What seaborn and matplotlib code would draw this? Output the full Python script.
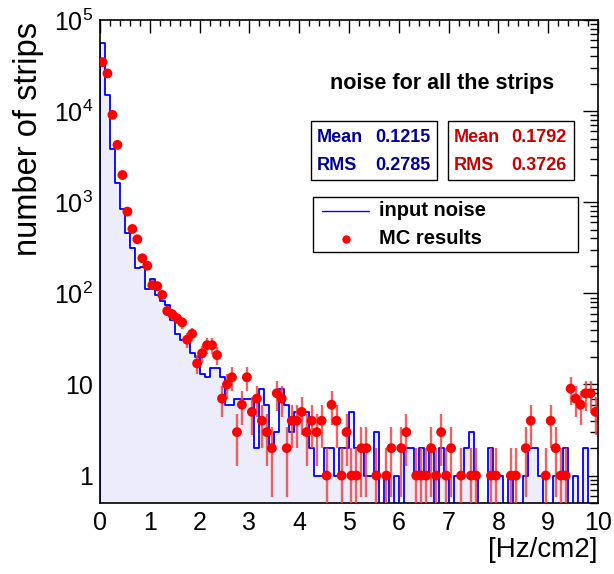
import numpy as np
import pandas as pd
import matplotlib
matplotlib.use("Agg")
import matplotlib.pyplot as plt
import seaborn as sns
from matplotlib.ticker import MultipleLocator, LogLocator, FuncFormatter, NullFormatter
from matplotlib.patches import Rectangle
from matplotlib.lines import Line2D

# ---------------- data (100 bins of 0.1 Hz/cm2 from 0 to 10) ----------------
x_range = (0.0, 10.0)
bin_width = 0.1

input_noise = [
    56000, 15000, 3850, 1620, 844, 457, 312, 188, 197, 113,
    144, 97, 82, 74, 51, 36, 31, 31, 22, 20,
    13, 12, 15, 15, 12, 6, 6, 7, 7, 7,
    7, 2, 9, 6, 2, 3, 9, 6, 3, 5,
    5, 5, 2, 1, 1, 2, 2, 1, 2, 2,
    5, 2, 2, 1, 1, 3, 0, 1, 0, 1,
    0, 2, 2, 1, 2, 1, 2, 0, 2, 1,
    0, 1, 1, 2, 3, 1, 0, 0, 2, 1,
    1, 0, 1, 0, 0, 1, 2, 2, 1, 0,
    0, 1, 1, 2, 0, 1, 0, 2, 0, 0,
]

mc_results = [
    34500, 25900, 9100, 4260, 1990, 790, 509, 392, 243, 201,
    123, 120, 96, 64, 59, 53, 48, 31, 36, 17,
    22, 27, 27, 21, 7, 10, 12, 3, 6, 12,
    5, 7, 4, 3, 2, 8, 7, 2, 4, 4,
    5, 3, 4, 3, 4, 1, 6, 4, 1, 3,
    1, 1, 2, 2, 0, 1, 0, 1, 2, 0,
    2, 3, 0, 1, 1, 1, 2, 1, 3, 1,
    2, 0, 1, 0, 1, 1, 0, 0, 1, 1,
    0, 0, 1, 1, 0, 2, 4, 0, 0, 1,
    4, 2, 1, 1, 9, 7, 6, 8, 8, 5,
]

title_text = "noise for all the strips"
stats_input = ("Mean", "0.1215", "RMS", "0.2785")
stats_mc = ("Mean", "0.1792", "RMS", "0.3726")
x_label = "[Hz/cm2]"
y_label = "number of strips"
legend_labels = ["input noise", "MC results"]

# ---------------- style ----------------
sns.set_style("white")
plt.rcParams["font.family"] = ["Liberation Sans", "DejaVu Sans"]
plt.rcParams["text.color"] = "black"
plt.rcParams["axes.labelcolor"] = "black"
plt.rcParams["mathtext.fontset"] = "custom"
plt.rcParams["mathtext.rm"] = "Liberation Sans"
plt.rcParams["mathtext.it"] = "Liberation Sans"
plt.rcParams["mathtext.bf"] = "Liberation Sans:bold"

W, H = 614, 574
fig = plt.figure(figsize=(W / 100, H / 100), dpi=100)


def fx(px):
    return px / W


def fy(py):
    return 1 - py / H


L, R, T, B = 100, 598, 20, 503
ax = fig.add_axes([fx(L), fy(B), fx(R) - fx(L), fy(T) - fy(B)])

nb = len(input_noise)
centers = x_range[0] + bin_width * (np.arange(nb) + 0.5)
df_in = pd.DataFrame({"x": centers, "w": np.asarray(input_noise, float)})
sns.histplot(data=df_in, x="x", weights="w", binwidth=bin_width, binrange=x_range,
             element="step", fill=True, facecolor="#ececfa", edgecolor="#0000ff",
             linewidth=1.3, ax=ax, zorder=2)

mc = np.asarray(mc_results, float)
mask = mc > 0
df_mc = pd.DataFrame({"x": centers[mask], "y": mc[mask]})
err = np.sqrt(df_mc["y"].values)
lower = np.minimum(err, df_mc["y"].values * 0.999)
ax.errorbar(df_mc["x"], df_mc["y"], yerr=[lower, err], fmt="none",
            ecolor="#f04646", elinewidth=1.7, alpha=0.85, zorder=3)
sns.scatterplot(data=df_mc, x="x", y="y", color="#ff0000", s=50,
                edgecolor="none", linewidth=0, ax=ax, zorder=4)

ax.set_yscale("log")
ax.set_xlim(*x_range)
ax.set_ylim(0.5, 1e5)
ax.set_xlabel("")
ax.set_ylabel("")

ax.xaxis.set_major_locator(MultipleLocator(1))
ax.xaxis.set_minor_locator(MultipleLocator(0.2))
ax.yaxis.set_major_locator(LogLocator(base=10, numticks=10))
ax.yaxis.set_minor_locator(LogLocator(base=10, subs=np.arange(2, 10), numticks=20))
ax.yaxis.set_minor_formatter(NullFormatter())


def yfmt(v, pos):
    e = int(round(np.log10(v)))
    if e == 0:
        return "1"
    if e == 1:
        return "10"
    return r"$10^{%d}$" % e


ax.yaxis.set_major_formatter(FuncFormatter(yfmt))
ax.tick_params(which="both", direction="in", top=True, right=True,
               colors="black", width=1.0, labelsize=18)
ax.tick_params(axis="y", which="major", length=10.5, pad=5)
ax.tick_params(axis="y", which="minor", length=5.5)
ax.tick_params(axis="x", which="major", length=9, pad=6)
ax.tick_params(axis="x", which="minor", length=4.5)
for s in ax.spines.values():
    s.set_linewidth(1.2)
    s.set_color("black")

# axis titles
fig.text(fx(597), fy(550), x_label, ha="right", va="center", fontsize=20, color="black")
fig.text(fx(29), fy(22), y_label, ha="center", va="top", rotation=90,
         fontsize=23.5, color="black")

# title
fig.text(fx(442), fy(83), title_text, ha="center", va="center",
         fontsize=15.5, fontweight="bold", color="black")

# stats boxes
for (x0, x1, col, st) in [(311, 437, "#000099", stats_input),
                          (448, 574, "#cc0000", stats_mc)]:
    fig.patches.append(Rectangle((fx(x0), fy(180)), fx(x1) - fx(x0), fy(121) - fy(180),
                                 transform=fig.transFigure, fill=False,
                                 edgecolor="black", linewidth=1.0))
    fig.text(fx(x0 + 6), fy(137), st[0], ha="left", va="center", color=col,
             fontsize=13, fontweight="bold")
    fig.text(fx(x1 - 7), fy(137), st[1], ha="right", va="center", color=col,
             fontsize=13, fontweight="bold")
    fig.text(fx(x0 + 6), fy(165), st[2], ha="left", va="center", color=col,
             fontsize=13, fontweight="bold")
    fig.text(fx(x1 - 7), fy(165), st[3], ha="right", va="center", color=col,
             fontsize=13, fontweight="bold")

# legend
fig.patches.append(Rectangle((fx(313), fy(252)), fx(578) - fx(313), fy(197) - fy(252),
                             transform=fig.transFigure, fill=False,
                             edgecolor="black", linewidth=1.0))
fig.lines.append(Line2D([fx(322), fx(369)], [fy(211), fy(211)], transform=fig.transFigure,
                        color="#0000ff", linewidth=1.0))
fig.lines.append(Line2D([fx(346)], [fy(239)], transform=fig.transFigure,
                        color="#ff0000", marker="o", markersize=6, linestyle="none",
                        markeredgewidth=0))
fig.text(fx(379), fy(211), legend_labels[0], ha="left", va="center",
         fontsize=14.5, fontweight="bold", color="black")
fig.text(fx(379), fy(239), legend_labels[1], ha="left", va="center",
         fontsize=14.5, fontweight="bold", color="black")

fig.savefig("out.png", dpi=100)
